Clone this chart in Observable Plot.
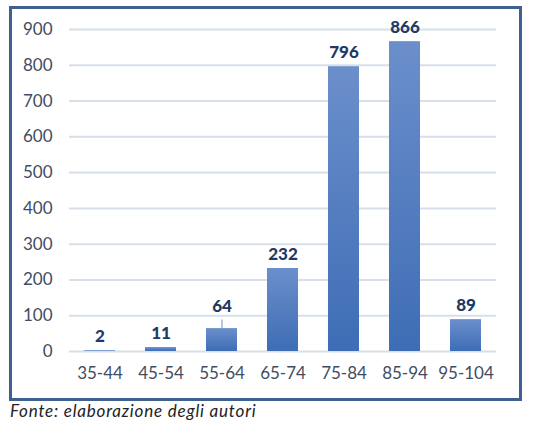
<!DOCTYPE html>
<html><head><meta charset="utf-8">
<script src="https://cdn.jsdelivr.net/npm/d3@7"></script>
<script src="https://cdn.jsdelivr.net/npm/@observablehq/plot@0.6"></script>
<style>
html,body{margin:0;padding:0;background:#fff;}
#wrap{position:relative;width:533px;height:423px;}
#frame{position:absolute;left:9px;top:6px;width:507px;height:389px;border:3px solid #3e6190;}
#chart{position:absolute;left:0;top:0;}
#cap{position:absolute;left:10px;top:400px;font-family:Lato,"Open Sans",sans-serif;font-style:italic;font-size:17px;letter-spacing:0.8px;color:#222;}
</style></head>
<body>
<div id="wrap"><div id="frame"></div><div id="chart"></div><div id="cap">Fonte: elaborazione degli autori</div></div>
<script>
const categories = ["35-44","45-54","55-64","65-74","75-84","85-94","95-104"];
const values = [2, 11, 64, 232, 796, 866, 89];
const leader = [false, false, true, false, false, false, false];
const yTicks = [0,100,200,300,400,500,600,700,800,900];

const data = categories.map((c,i)=>({cat:c, value:values[i], leader:leader[i]}));
const font = "Lato, 'Open Sans', sans-serif";

const plot = Plot.plot({
  width: 533, height: 400,
  marginLeft: 69, marginRight: 37, marginTop: 29, marginBottom: 49,
  style: {fontFamily: font, background: "transparent"},
  x: {domain: categories, paddingInner: 0.5, paddingOuter: 0.25, label: null},
  y: {domain: [0, 900], label: null},
  marks: [
    () => {
      const s = d3.create("svg:defs");
      const g = s.append("linearGradient").attr("id","barGrad").attr("x1",0).attr("y1",0).attr("x2",0).attr("y2",1);
      g.append("stop").attr("offset","0%").attr("stop-color","#6b8fcb");
      g.append("stop").attr("offset","100%").attr("stop-color","#3e6db5");
      return s.node();
    },
    Plot.gridY(yTicks, {stroke: "#d6dfea", strokeOpacity: 1, strokeWidth: 2}),
    Plot.axisY({ticks: yTicks, tickSize: 0, tickPadding: 17, fontSize: 17, fill: "#3f4d62", label: null}),
    Plot.axisX({tickSize: 0, tickPadding: 15, fontSize: 17, fill: "#3f4d62", label: null}),
    Plot.barY(data, {x: "cat", y: "value", fill: "url(#barGrad)"}),
    Plot.ruleX(data.filter(d=>d.leader), {x: "cat", y1: "value", y2: d => d.value + 24, stroke: "#8ea3c2", strokeWidth: 1.2}),
    Plot.text(data.filter(d=>!d.leader), {x: "cat", y: "value", text: d => String(d.value), dy: -14, fontWeight: 900, fontSize: 17, fill: "#1f3a64"}),
    Plot.text(data.filter(d=>d.leader), {x: "cat", y: "value", text: d => String(d.value), dy: -22, fontWeight: 900, fontSize: 17, fill: "#1f3a64"}),
  ]
});
document.getElementById("chart").appendChild(plot);
</script>
</body></html>
